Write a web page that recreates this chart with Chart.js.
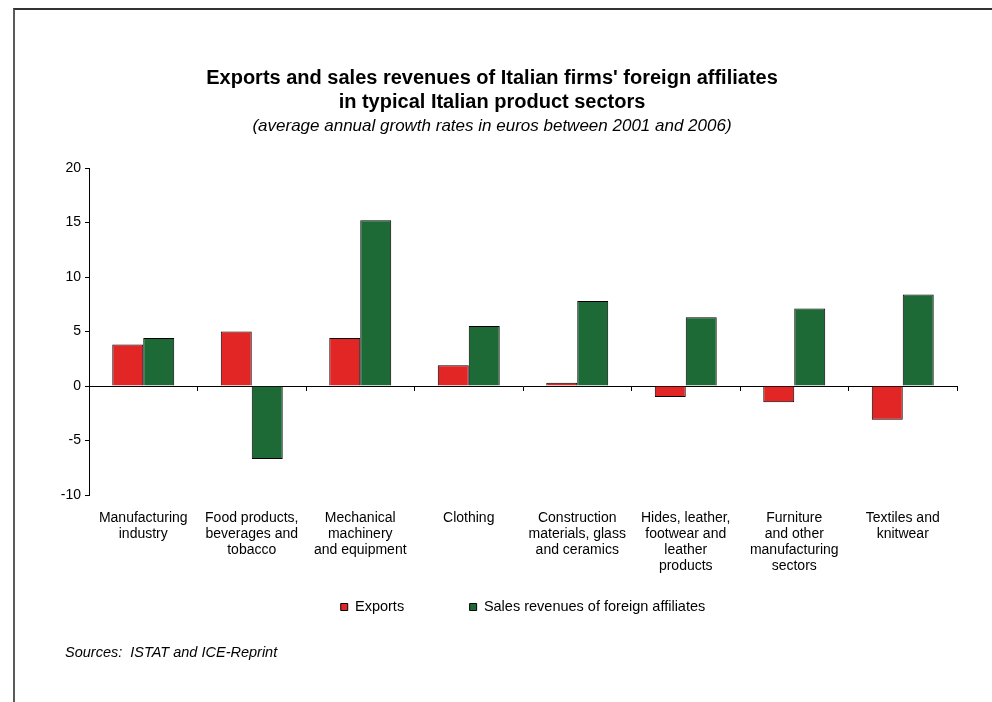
<!DOCTYPE html>
<html>
<head>
<meta charset="utf-8">
<title>Exports and sales revenues of Italian firms' foreign affiliates</title>
<script src="https://cdn.jsdelivr.net/npm/chart.js@4.4.1/dist/chart.umd.min.js"></script>
<style>
    html, body { margin: 0; padding: 0; background: #fff; overflow: hidden; }
    #wrap { position: relative; width: 992px; height: 702px; }
    #frame {
        position: absolute; left: 13px; top: 8px; width: 1000px; height: 720px;
        border-top: 2px solid #333; border-left: 2px solid #5a5a5a;
        pointer-events: none;
    }
    canvas { position: absolute; left: 0; top: 0; }
</style>
</head>
<body>
<div id="wrap">
    <canvas id="sectors-chart" width="992" height="702"></canvas>
    <div id="frame"></div>
</div>
<script>
const sectors = [
    ['Manufacturing', 'industry'],
    ['Food products,', 'beverages and', 'tobacco'],
    ['Mechanical', 'machinery', 'and equipment'],
    'Clothing',
    ['Construction', 'materials, glass', 'and ceramics'],
    ['Hides, leather,', 'footwear and', 'leather', 'products'],
    ['Furniture', 'and other', 'manufacturing', 'sectors'],
    ['Textiles and', 'knitwear']
];

// average annual growth rates 2001-2006 (%)
const exportsGrowth = [3.8, 5.0, 4.4, 1.9, 0.3, -1.0, -1.5, -3.1];
const affiliatesGrowth = [4.4, -6.7, 15.2, 5.5, 7.8, 6.3, 7.1, 8.4];

const yMin = -10;
const yMax = 20;
const yStep = 5;

const FONT = "'Liberation Sans', Arial, sans-serif";

// source note under the legend
const sourceNote = {
    id: 'sourceNote',
    afterDraw(chart) {
        const ctx = chart.ctx;
        ctx.save();
        ctx.font = 'italic 14.5px ' + FONT;
        ctx.fillStyle = '#000';
        ctx.textBaseline = 'middle';
        ctx.textAlign = 'left';
        ctx.fillText('Sources:  ISTAT and ICE-Reprint', 65, 653);
        ctx.restore();
    }
};

// the legend's wide item spacing also pads it vertically, so pull it
// back up over the empty space under the sector labels
const legendLift = {
    id: 'legendLift',
    afterLayout(chart) {
        const lg = chart.legend;
        lg.top -= 45.75;
        lg.bottom -= 45.75;
    }
};

const ctx = document.getElementById('sectors-chart').getContext('2d');
const chart = new Chart(ctx, {
    type: 'bar',
    data: {
        labels: sectors,
        datasets: [{
            label: 'Exports',
            data: exportsGrowth,
            backgroundColor: '#e22626',
            borderColor: '#000',
            borderWidth: 1
        }, {
            label: 'Sales revenues of foreign affiliates',
            data: affiliatesGrowth,
            backgroundColor: '#1d6a37',
            borderColor: '#000',
            borderWidth: 1
        }]
    },
    options: {
        responsive: false,
        animation: false,
        events: [],
        categoryPercentage: 0.571,
        barPercentage: 1,
        layout: {
            padding: { left: 27, right: 35, top: 0, bottom: 32 }
        },
        plugins: {
            title: {
                display: true,
                text: ["Exports and sales revenues of Italian firms' foreign affiliates",
                       'in typical Italian product sectors'],
                color: '#000',
                font: { family: FONT, size: 20, weight: 'bold', lineHeight: 1.2 },
                padding: { top: 66, bottom: 0 }
            },
            subtitle: {
                display: true,
                text: '(average annual growth rates in euros between 2001 and 2006)',
                color: '#000',
                font: { family: FONT, size: 17, style: 'italic', lineHeight: 1.2 },
                padding: { top: 1.8, bottom: 31.8 }
            },
            legend: {
                position: 'bottom',
                fullSize: false,
                labels: {
                    color: '#000',
                    font: { family: FONT, size: 14.5 },
                    boxWidth: 7,
                    boxHeight: 7,
                    padding: 65.5
                }
            },
            tooltip: { enabled: false }
        },
        scales: {
            x: {
                position: 'bottom',
                grid: { display: false },
                border: { display: false },
                ticks: {
                    color: '#000',
                    font: { family: FONT, size: 14, lineHeight: 1.15 },
                    maxRotation: 0,
                    autoSkip: false,
                    padding: 7
                },
                afterFit(scale) { scale.height = 85; }
            },
            // axis line through zero with tick marks between sectors
            xZero: {
                type: 'category',
                position: { y: 0 },
                offset: true,
                grid: {
                    offset: true,
                    drawOnChartArea: false,
                    drawTicks: true,
                    tickLength: 4,
                    color: '#000'
                },
                border: { display: true, color: '#000', width: 1 },
                ticks: { display: false }
            },
            y: {
                min: yMin,
                max: yMax,
                grid: {
                    drawOnChartArea: false,
                    drawTicks: true,
                    tickLength: 4,
                    color: '#000'
                },
                border: { display: true, color: '#000', width: 1 },
                ticks: {
                    stepSize: yStep,
                    color: '#000',
                    font: { family: FONT, size: 14 },
                    padding: 4
                },
                afterFit(scale) { scale.width = 62; }
            }
        }
    },
    plugins: [sourceNote, legendLift]
});
</script>
</body>
</html>
